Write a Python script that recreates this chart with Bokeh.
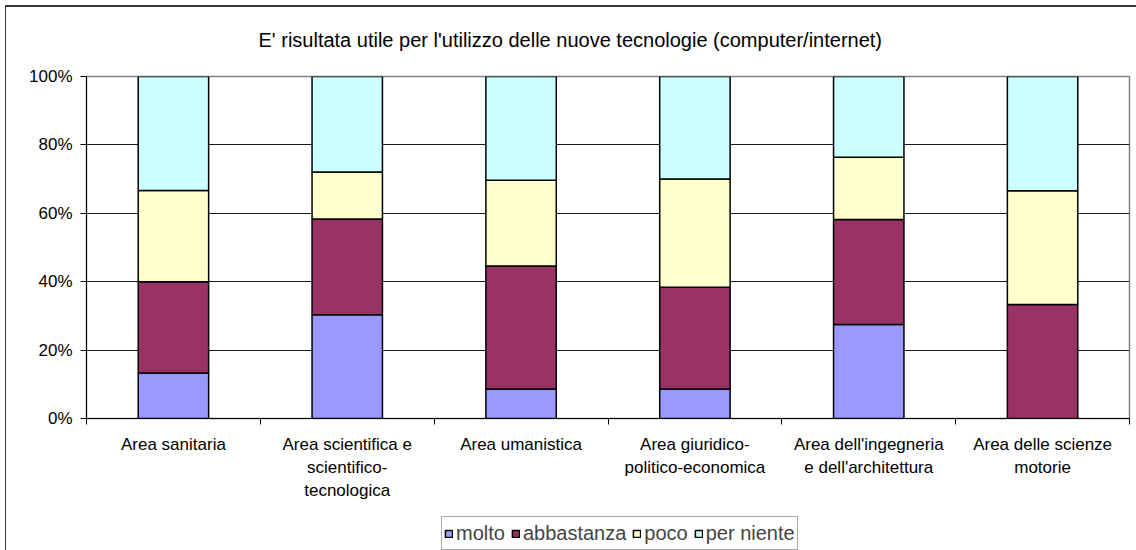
from bokeh.plotting import figure
from bokeh.layouts import column
from bokeh.models import (ColumnDataSource, Range1d, FixedTicker, PrintfTickFormatter,
                          Legend, LegendItem)
from bokeh.embed import file_html
from bokeh.resources import INLINE

title_text = "E' risultata utile per l'utilizzo delle nuove tecnologie (computer/internet)"
categories = [
    "Area sanitaria",
    "Area scientifica e\nscientifico-\ntecnologica",
    "Area umanistica",
    "Area giuridico-\npolitico-economica",
    "Area dell'ingegneria\ne dell'architettura",
    "Area delle scienze\nmotorie",
]
series = ["molto", "abbastanza", "poco", "per niente"]
molto = [13.3, 30.3, 8.6, 8.6, 27.5, 0.0]
abbastanza = [26.7, 28.0, 36.0, 29.8, 30.7, 33.3]
poco = [26.7, 13.8, 25.1, 31.6, 18.2, 33.3]
per_niente = [33.3, 27.9, 30.3, 30.0, 23.6, 33.4]
colors = ["#9999FF", "#993366", "#FFFFCC", "#CCFFFF"]
y_ticks = [0, 20, 40, 60, 80, 100]

FONT = "Liberation Sans"
BORDER = "#3a3a3a"

x_pos = [i + 0.5 for i in range(len(categories))]
source = ColumnDataSource(dict(x=x_pos, molto=molto, abbastanza=abbastanza,
                               poco=poco, per_niente=per_niente))

p = figure(width=1136, height=512, frame_width=1043, frame_height=342,
           x_range=Range1d(0, len(categories)), y_range=Range1d(0, 100),
           output_backend="svg", toolbar_location=None,
           min_border_left=86, min_border_right=7, min_border_top=72, min_border_bottom=94)
p.border_fill_color = None
p.background_fill_color = "white"
p.styles = {
    "background": (f"linear-gradient({BORDER},{BORDER}) 5px 5px / 1px 100% no-repeat, "
                   f"linear-gradient({BORDER},{BORDER}) 5px 5px / 100% 2px no-repeat, white"),
}

renderers = p.vbar_stack(["molto", "abbastanza", "poco", "per_niente"], x="x", width=0.405,
                         source=source, fill_color=colors, line_color="black", line_width=1.5)

# title
p.title.text = title_text
p.title.align = "left"
p.title.offset = 172
p.title.standoff = 52
p.title.text_font = FONT
p.title.text_font_size = "20px"
p.title.text_font_style = "normal"
p.title.text_color = "black"

# axes
p.yaxis.ticker = FixedTicker(ticks=y_ticks)
p.yaxis.formatter = PrintfTickFormatter(format="%d%%")
p.yaxis.major_tick_out = 6
p.yaxis.major_tick_in = 0
p.yaxis.minor_tick_line_color = None
p.yaxis.major_label_standoff = 8
p.yaxis.axis_line_color = "black"
p.yaxis.major_tick_line_color = "black"
p.yaxis.major_label_text_font = FONT
p.yaxis.major_label_text_font_size = "17px"
p.yaxis.major_label_text_color = "black"

p.xaxis.ticker = FixedTicker(ticks=x_pos, minor_ticks=list(range(len(categories) + 1)))
p.xaxis.major_label_overrides = {x: c for x, c in zip(x_pos, categories)}
p.xaxis.major_tick_line_color = None
p.xaxis.major_tick_out = 0
p.xaxis.major_tick_in = 0
p.xaxis.minor_tick_out = 6
p.xaxis.minor_tick_in = 0
p.xaxis.minor_tick_line_color = "black"
p.xaxis.axis_line_color = "black"
p.xaxis.major_label_standoff = 10
p.xaxis.major_label_text_font = FONT
p.xaxis.major_label_text_font_size = "17px"
p.xaxis.major_label_text_color = "black"
p.xaxis.major_label_text_line_height = 1.23

p.xgrid.visible = False
p.ygrid.ticker = FixedTicker(ticks=[20, 40, 60, 80])
p.ygrid.grid_line_color = "#1a1a1a"
p.ygrid.grid_line_width = 1
p.outline_line_color = "#808080"
p.outline_line_width = 1.5

# legend strip below the chart
q = figure(width=1136, height=38, frame_width=1136, frame_height=38,
           x_range=Range1d(0, 1), y_range=Range1d(0, 1),
           x_axis_type=None, y_axis_type=None,
           output_backend="svg", toolbar_location=None,
           min_border_left=0, min_border_right=0, min_border_top=0, min_border_bottom=0)
q.grid.visible = False
q.outline_line_color = None
q.border_fill_color = None
q.background_fill_color = None
q.styles = {"background": f"linear-gradient({BORDER},{BORDER}) 5px 0px / 1px 100% no-repeat, white"}

# swatch renderers for the legend (placed outside the visible range)
legend_renderers = [q.vbar(x=[10], top=[1], width=0.5, fill_color=c, line_color="black",
                           line_width=1.5) for c in colors]

legend = Legend(items=[LegendItem(label=s, renderers=[r]) for s, r in zip(series, legend_renderers)],
                orientation="horizontal", location=(441, 0), margin=0,
                glyph_width=9, glyph_height=9, label_standoff=3, spacing=6, padding=2,
                label_text_font=FONT, label_text_font_size="20px", label_height=28,
                label_text_baseline="middle",
                border_line_color="#555555", border_line_width=1,
                background_fill_color="white", background_fill_alpha=1.0)
q.add_layout(legend, "center")

layout = column(p, q, spacing=0)
open("out.html", "w").write(file_html(layout, INLINE))
